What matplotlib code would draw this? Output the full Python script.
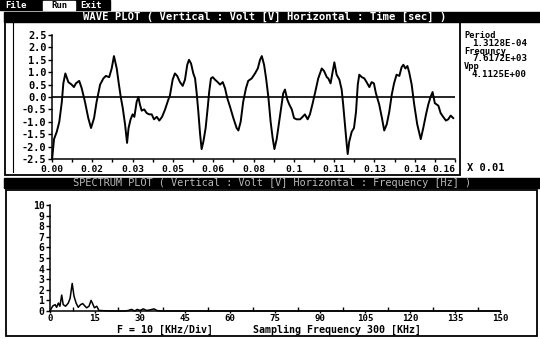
import numpy as np
import matplotlib
matplotlib.use("Agg")
import matplotlib.pyplot as plt
from matplotlib.patches import Rectangle

# ---- wave plot data (time in 0.01 s units, volt) ----
wave_t = [0.0001, 0.0008, 0.0019, 0.0029, 0.0039, 0.0045, 0.0053, 0.0065, 0.0078, 0.0087,
          0.0095, 0.0108, 0.0118, 0.0131, 0.0144, 0.0155, 0.0167, 0.0177, 0.0191, 0.0204,
          0.0214, 0.0227, 0.0237, 0.0246, 0.0257, 0.0265, 0.0273, 0.0281, 0.0290, 0.0298,
          0.0304, 0.0312, 0.0320, 0.0327, 0.0336, 0.0343, 0.0349, 0.0356, 0.0366, 0.0376,
          0.0386, 0.0396, 0.0405, 0.0416, 0.0426, 0.0437, 0.0449, 0.0462, 0.0468, 0.0479,
          0.0488, 0.0497, 0.0508, 0.0519, 0.0528, 0.0537, 0.0544, 0.0552, 0.0561, 0.0568,
          0.0574, 0.0581, 0.0588, 0.0594, 0.0601, 0.0610, 0.0618, 0.0624, 0.0631, 0.0638,
          0.0647, 0.0658, 0.0667, 0.0678, 0.0687, 0.0696, 0.0707, 0.0720, 0.0733, 0.0740,
          0.0749, 0.0759, 0.0770, 0.0779, 0.0793, 0.0806, 0.0817, 0.0826, 0.0833, 0.0842,
          0.0850, 0.0859, 0.0868, 0.0876, 0.0883, 0.0892, 0.0902, 0.0912, 0.0918, 0.0925,
          0.0934, 0.0942, 0.0952, 0.0961, 0.0971, 0.0985, 0.0995, 0.1004, 0.1015, 0.1024,
          0.1035, 0.1044, 0.1057, 0.1071, 0.1080, 0.1091, 0.1097, 0.1106, 0.1114, 0.1121,
          0.1130, 0.1141, 0.1150, 0.1156, 0.1163, 0.1170, 0.1174, 0.1180, 0.1190, 0.1199,
          0.1207, 0.1214, 0.1220, 0.1230, 0.1240, 0.1249, 0.1260, 0.1269, 0.1278, 0.1286,
          0.1299, 0.1310, 0.1319, 0.1329, 0.1339, 0.1349, 0.1358, 0.1368, 0.1379, 0.1388,
          0.1395, 0.1403, 0.1411, 0.1418, 0.1428, 0.1438, 0.1450, 0.1464, 0.1474, 0.1485,
          0.1494, 0.1503, 0.1511, 0.1520, 0.1534, 0.1543, 0.1553, 0.1564, 0.1573, 0.1583,
          0.1593]
wave_v = [-2.45, -1.7, -1.4, -1.0, -0.2, 0.55, 0.95, 0.6, 0.5, 0.4,
          0.55, 0.65, 0.35, -0.2, -0.85, -1.25, -0.85, -0.2, 0.5, 0.75,
          0.85, 0.8, 1.15, 1.65, 1.15, 0.55, 0.0, -0.45, -1.1, -1.85,
          -1.25, -0.9, -0.7, -0.8, -0.2, 0.0, -0.3, -0.55, -0.5, -0.65,
          -0.7, -0.7, -0.9, -0.8, -0.95, -0.8, -0.5, -0.1, 0.05, 0.7,
          0.95, 0.85, 0.6, 0.45, 0.7, 1.3, 1.5, 1.35, 0.95, 0.75,
          0.2, -0.6, -1.5, -2.1, -1.8, -1.25, -0.45, 0.2, 0.75, 0.8,
          0.7, 0.6, 0.5, 0.6, 0.35, -0.05, -0.4, -0.85, -1.25, -1.35,
          -1.0, -0.2, 0.35, 0.65, 0.75, 0.95, 1.15, 1.5, 1.65, 1.3,
          0.75, 0.0, -1.0, -1.65, -2.1, -1.7, -1.0, -0.3, 0.15, 0.3,
          -0.1, -0.3, -0.5, -0.85, -0.9, -0.9, -0.8, -0.7, -0.9, -0.7,
          -0.25, 0.15, 0.75, 1.15, 1.05, 0.8, 0.75, 0.55, 1.0, 1.4,
          0.9, 0.7, 0.3, -0.3, -1.1, -1.9, -2.3, -1.8, -1.4, -1.25,
          -0.6, 0.5, 0.9, 0.8, 0.75, 0.6, 0.4, 0.6, 0.55, 0.15,
          -0.3, -0.85, -1.35, -1.1, -0.6, 0.1, 0.55, 0.9, 0.85, 1.2,
          1.3, 1.15, 1.25, 1.0, 0.5, -0.3, -1.1, -1.7, -1.25, -0.7,
          -0.3, 0.0, 0.2, -0.25, -0.35, -0.65, -0.8, -0.95, -0.9, -0.75,
          -0.85]
wave_xticks = [0.0, 0.016, 0.032, 0.048, 0.064, 0.08, 0.096, 0.112, 0.128, 0.144, 0.16]
wave_xlabels = ["0.00", "0.02", "0.03", "0.05", "0.06", "0.08", "0.1", "0.11", "0.13", "0.14", "0.16"]
wave_yticks = [-2.5, -2.0, -1.5, -1.0, -0.5, 0.0, 0.5, 1.0, 1.5, 2.0, 2.5]

info_names = ["Period", "Frequncy", "Vpp"]
info_values = ["1.3128E-04", "7.6172E+03", "4.1125E+00"]

# ---- spectrum data (kHz, volt) ----
spec_f = [0, 0.9, 1.7, 2.2, 2.8, 3.3, 3.9, 4.4, 5.2, 6.1, 6.7, 7.4, 8.0, 8.7, 9.4,
          10.2, 10.9, 11.7, 12.2, 13.0, 13.7, 14.2, 14.8, 15.6, 16.3, 20, 25, 26.1,
          27.2, 28.2, 29.1, 30.0, 31.1, 32.2, 33.3, 34.7, 35.6, 36.7, 40, 150]
spec_a = [0, 0.47, 0.6, 0.35, 0.75, 0.45, 1.5, 0.6, 0.45, 0.75, 1.2, 2.6, 1.4, 0.75, 0.35,
          0.6, 0.7, 0.45, 0.3, 0.45, 1.0, 0.7, 0.3, 0.45, 0.05, 0, 0, 0.05,
          0.15, 0, 0.15, 0.05, 0.2, 0.05, 0.1, 0.2, 0.05, 0, 0, 0]
spec_xticks = [0, 15, 30, 45, 60, 75, 90, 105, 120, 135, 150]
spec_yticks = [0, 1, 2, 3, 4, 5, 6, 7, 8, 9, 10]

plt.rcParams['font.family'] = ['DejaVu Sans Mono']
plt.rcParams['font.weight'] = 'bold'

W, H = 540, 339
fig = plt.figure(figsize=(W / 100, H / 100), dpi=100)

# screen decoration in pixel space
bg = fig.add_axes([0, 0, 1, 1])
bg.set_xlim(0, W)
bg.set_ylim(H, 0)
bg.axis('off')

# menu bar
bg.add_patch(Rectangle((0, 0), 110, 10, color='black'))
bg.add_patch(Rectangle((43, 1), 32, 8.5, color='white'))
bg.text(5, 5.5, "File", color='white', fontsize=6.5, va='center')
bg.text(59, 5.5, "Run", color='black', fontsize=6.5, va='center', ha='center')
bg.text(80, 5.5, "Exit", color='white', fontsize=6.5, va='center')

# wave title bar + frame
bg.add_patch(Rectangle((4, 12), 536, 9.5, color='black'))
bg.text(265, 16.8, "WAVE PLOT ( Vertical : Volt [V] Horizontal : Time [sec] )",
        color='white', fontsize=7.6, ha='center', va='center')
bg.add_patch(Rectangle((4.5, 21.5), 455.5, 153.5, fill=False, lw=1.3, ec='black'))
bg.plot([13, 13], [23, 172], color='black', lw=0.8)

for i, (name, val) in enumerate(zip(info_names, info_values)):
    y0 = 35.5 + i * 15.5
    bg.text(464, y0, name, fontsize=6.2, va='center')
    bg.text(472, y0 + 7.7, val, fontsize=6.6, va='center')
bg.text(467, 168, "X 0.01", fontsize=7.5, va='center')

# spectrum title bar + frame
bg.add_patch(Rectangle((4, 178), 536, 10, color='black'))
bg.text(272, 183.2, "SPECTRUM PLOT ( Vertical : Volt [V] Horizontal : Frequency [Hz] )",
        color='#b8b8b8', fontsize=7.4, ha='center', va='center', fontweight='normal')
bg.add_patch(Rectangle((6, 189.5), 531, 146.5, fill=False, lw=1.3, ec='black'))
bg.text(117, 330, "F = 10 [KHz/Div]", fontsize=7.2, va='center')
bg.text(253, 330, "Sampling Frequency 300 [KHz]", fontsize=7.2, va='center')

# ---- wave axes ----
ax1 = fig.add_axes([52 / W, 1 - 159 / H, 403 / W, 124 / H])
ax1.patch.set_alpha(0)
ax1.plot(wave_t, wave_v, color='black', lw=1.4, clip_on=False)
ax1.axhline(0, color='black', lw=1.2)
ax1.set_xlim(0, 0.16)
ax1.set_ylim(-2.5, 2.5)
for s in ['top', 'right']:
    ax1.spines[s].set_visible(False)
for s in ['left', 'bottom']:
    ax1.spines[s].set_linewidth(1.1)
ax1.set_yticks(wave_yticks)
ax1.set_yticklabels([f"{v:.1f}" for v in wave_yticks])
ax1.set_xticks(wave_xticks)
ax1.set_xticklabels(wave_xlabels)
ax1.get_xticklabels()[-1].set_ha('right')
ax1.set_xticks([(a + b) / 2 for a, b in zip(wave_xticks[:-1], wave_xticks[1:])], minor=True)
ax1.tick_params(axis='y', direction='out', length=3, width=1, pad=1, labelsize=7.4)
ax1.tick_params(axis='x', which='both', direction='out', length=2.5, width=1, pad=2, labelsize=6.8)

# ---- spectrum axes ----
ax2 = fig.add_axes([50 / W, 1 - 311 / H, 450 / W, 106 / H])
ax2.patch.set_alpha(0)
ax2.plot(spec_f, spec_a, color='black', lw=1.1, clip_on=False)
ax2.set_xlim(0, 150)
ax2.set_ylim(0, 10)
for s in ['top', 'right']:
    ax2.spines[s].set_visible(False)
for s in ['left', 'bottom']:
    ax2.spines[s].set_linewidth(1.1)
ax2.set_yticks(spec_yticks)
ax2.set_xticks(spec_xticks)
ax2.set_xticks([x + 7.5 for x in spec_xticks[:-1]], minor=True)
ax2.tick_params(axis='y', direction='out', length=3, width=1, pad=1, labelsize=7)
ax2.tick_params(axis='x', which='major', direction='out', length=1.5, width=1, pad=0.5, labelsize=6.6)
ax2.tick_params(axis='x', which='minor', direction='in', length=3, width=1)

fig.savefig("out.png", dpi=100)
